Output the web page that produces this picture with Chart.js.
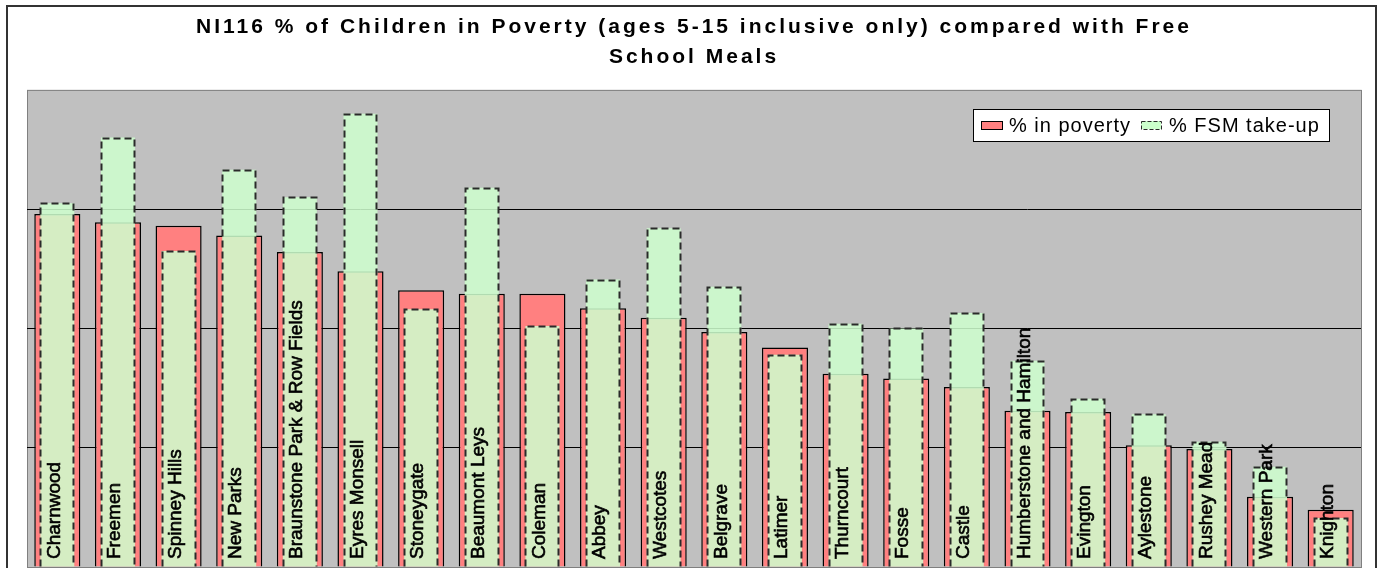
<!DOCTYPE html>
<html>
<head>
<meta charset="utf-8">
<script src="https://cdn.jsdelivr.net/npm/chart.js@4.4.1/dist/chart.umd.min.js"></script>
<style>
  html, body { margin: 0; padding: 0; background: #fff; }
  #wrap { width: 1385px; height: 568px; position: relative; }
</style>
</head>
<body>
<div id="wrap"><canvas id="chart-poverty"></canvas></div>
<script>
Chart.defaults.font.family = "'Liberation Sans', Arial, sans-serif";
Chart.defaults.color = '#000';

const wards = ['Charnwood', 'Freemen', 'Spinney Hills', 'New Parks', 'Braunstone Park & Row Fields',
    'Eyres Monsell', 'Stoneygate', 'Beaumont Leys', 'Coleman', 'Abbey', 'Westcotes', 'Belgrave',
    'Latimer', 'Thurncourt', 'Fosse', 'Castle', 'Humberstone and Hamilton', 'Evington',
    'Aylestone', 'Rushey Mead', 'Western Park', 'Knighton'];
const povertyPct = [29.6, 28.9, 28.6, 27.8, 26.4, 24.8, 23.2, 22.9, 22.9, 21.7, 20.9, 19.7,
    18.4, 16.2, 15.8, 15.1, 13.1, 13.0, 10.2, 9.9, 5.9, 4.8];
const fsmPct = [30.5, 36.0, 26.5, 33.3, 31.0, 38.0, 21.6, 31.8, 20.2, 24.1, 28.4, 23.5,
    17.8, 20.4, 20.0, 21.3, 17.3, 14.1, 12.8, 10.5, 8.4, 4.1];
const seriesNames = ['% in poverty', '% FSM take-up'];
const titleLines = ['NI116 % of Children in Poverty (ages 5-15 inclusive only) compared with Free', 'School Meals'];

const COL = {
    red: '#ff8080', green: 'rgba(206,255,206,0.86)', greenSolid: '#ccffcc',
    plot: '#c0c0c0', plotEdge: '#808080', dash: '#2a2a2a'
};

// gray plot area + outer frame; wide letter spacing for the title text
const frame = {
    id: 'frame',
    beforeDraw(chart) {
        const { ctx, chartArea: a } = chart;
        ctx.save();
        ctx.fillStyle = '#fff';
        ctx.fillRect(0, 0, chart.width, chart.height);
        ctx.strokeStyle = '#333';
        ctx.lineWidth = 2;
        ctx.strokeRect(7, 6, 1369, 600);
        ctx.fillStyle = COL.plot;
        ctx.fillRect(a.left, a.top, a.right - a.left, a.bottom - a.top);
        ctx.strokeStyle = COL.plotEdge;
        ctx.lineWidth = 1;
        ctx.strokeRect(a.left + 0.5, a.top + 0.5, a.right - a.left, a.bottom - a.top);
        ctx.restore();
        ctx.letterSpacing = '3px';
    },
    beforeDatasetsDraw(chart) {
        chart.ctx.letterSpacing = '0px';
    }
};

// dashed outline on the FSM bars, then ward names up each bar
const wardLabels = {
    id: 'wardLabels',
    afterDatasetsDraw(chart) {
        const { ctx, scales: { x } } = chart;
        const meta = chart.getDatasetMeta(1);
        ctx.save();
        ctx.strokeStyle = COL.dash;
        ctx.lineWidth = 2;
        ctx.setLineDash([7, 4]);
        meta.data.forEach(bar => {
            const l = Math.round(bar.x - bar.width / 2) + 0.5, r = Math.round(bar.x + bar.width / 2) - 0.5;
            const t = Math.round(bar.y) + 0.5;
            ctx.beginPath();
            ctx.moveTo(l, bar.base);
            ctx.lineTo(l, t);
            ctx.lineTo(r, t);
            ctx.lineTo(r, bar.base);
            ctx.stroke();
        });
        ctx.setLineDash([]);
        ctx.fillStyle = '#000';
        ctx.strokeStyle = '#000';
        ctx.lineWidth = 0.6;
        ctx.font = "19px 'Liberation Sans', Arial, sans-serif";
        ctx.textAlign = 'left';
        ctx.textBaseline = 'middle';
        wards.forEach((w, i) => {
            ctx.save();
            ctx.translate(x.getPixelForValue(i) - 3, 559);
            ctx.rotate(-Math.PI / 2);
            ctx.fillText(w, 0, 0);
            ctx.strokeText(w, 0, 0);
            ctx.restore();
        });
        ctx.restore();
    }
};

// boxed legend sitting inside the plot, top right
const boxLegend = {
    id: 'boxLegend',
    afterDraw(chart) {
        const { ctx } = chart;
        const x0 = 973, y0 = 109, w = 356, h = 32;
        ctx.save();
        ctx.fillStyle = '#fff';
        ctx.fillRect(x0, y0, w, h);
        ctx.strokeStyle = '#000';
        ctx.lineWidth = 1;
        ctx.strokeRect(x0 + 0.5, y0 + 0.5, w, h);
        ctx.font = "20px 'Liberation Sans', Arial, sans-serif";
        ctx.letterSpacing = '1px';
        ctx.textBaseline = 'middle';
        ctx.fillStyle = COL.red;
        ctx.fillRect(981, 121, 21, 8);
        ctx.strokeStyle = '#000';
        ctx.strokeRect(981.5, 121.5, 21, 8);
        ctx.fillStyle = '#000';
        ctx.fillText(seriesNames[0], 1009, y0 + h / 2 + 1);
        ctx.fillStyle = COL.greenSolid;
        ctx.fillRect(1141, 121, 20, 8);
        ctx.setLineDash([4, 2]);
        ctx.strokeStyle = COL.dash;
        ctx.strokeRect(1141.5, 121.5, 20, 8);
        ctx.setLineDash([]);
        ctx.fillStyle = '#000';
        ctx.fillText(seriesNames[1], 1169, y0 + h / 2 + 1);
        ctx.restore();
    }
};

new Chart(document.getElementById('chart-poverty'), {
    type: 'bar',
    data: {
        labels: wards,
        datasets: [
            { label: seriesNames[0], data: povertyPct, backgroundColor: COL.red, borderColor: '#000', borderWidth: 1.5, barPercentage: 0.76, categoryPercentage: 1, grouped: false, order: 2 },
            { label: seriesNames[1], data: fsmPct, backgroundColor: COL.green, borderWidth: 0, barPercentage: 0.56, categoryPercentage: 1, grouped: false, order: 1 }
        ]
    },
    options: {
        responsive: true, maintainAspectRatio: false, animation: false,
        layout: { padding: { left: 27, right: 24, top: 0, bottom: 1 } },
        plugins: {
            legend: { display: false },
            tooltip: { enabled: false },
            title: { display: true, text: titleLines, color: '#000', font: { size: 21, weight: 'bold', lineHeight: 1.45 }, padding: { top: 12, bottom: 17 } }
        },
        scales: {
            x: { display: false },
            y: {
                min: 0, max: 40,
                ticks: { display: false, stepSize: 10 },
                grid: { drawTicks: false, lineWidth: 1, color: c => (c.tick.value > 0 && c.tick.value < 40) ? '#000' : 'transparent' },
                border: { display: false }
            }
        }
    },
    plugins: [frame, wardLabels, boxLegend]
});
</script>
</body>
</html>
